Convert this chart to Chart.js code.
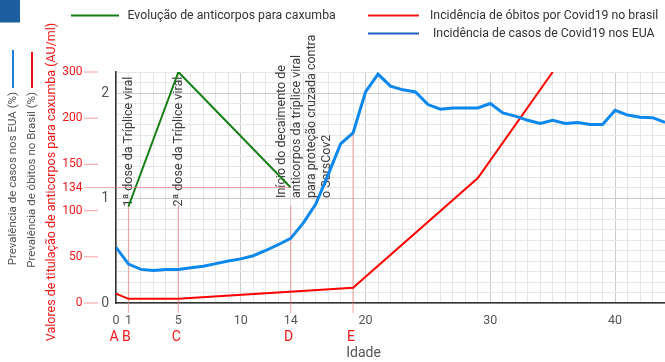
<!DOCTYPE html>
<html><head><meta charset="utf-8">
<script src="https://cdn.jsdelivr.net/npm/chart.js@4"></script>
<style>html,body{margin:0;padding:0;background:#fff}</style>
</head><body>
<canvas id="c" width="665" height="362"></canvas>
<script>
// ---------------- DATA ----------------
const ages = [0,1,2,3,4,5,6,7,8,9,10,11,12,13,14,15,16,17,18,19,20,21,22,23,24,25,26,27,28,29,30,31,32,33,34,35,36,37,38,39,40,41,42,43,44];
const usCases = [0.53,0.37,0.32,0.31,0.32,0.32,0.335,0.35,0.375,0.40,0.42,0.45,0.50,0.555,0.615,0.76,0.94,1.22,1.515,1.62,2.01,2.18,2.065,2.03,2.01,1.89,1.845,1.857,1.857,1.857,1.90,1.81,1.78,1.74,1.71,1.74,1.71,1.72,1.70,1.70,1.835,1.79,1.77,1.765,1.72];
const brDeathAges = [0,1,5,19,29,35];
const brDeaths = [0.09,0.04,0.04,0.145,1.19,2.2];
const mumpsAges = [1,5,14];
const mumpsTiter = [106,300,134];
const titerTicks = [0,50,100,134,150,200,300];
const xTickLabels = [0,1,5,10,14,20,30,40];
const yTickLabels = [0,1,2];
const eventAges = [0,1,5,14,19];
const eventLetters = ['A','B','C','D','E'];
const markerAges = [1,5,14,19];
const annotationAges = [1,5,14];
const annotationTexts = [
  ['1ª dose da Tríplice viral'],
  ['2ª dose da Tríplice viral'],
  ['Início do decaimento de','anticorpos da tríplice viral','para proteção cruzada contra','o SarsCov2']
];
const legendLabels = ['Evolução de anticorpos para caxumba','Incidência de óbitos por Covid19 no brasil','Incidência de casos de Covid19 nos EUA'];

// ---------------- LAYOUT / STYLE ----------------
const titerSlots = [0,1,2,2.5,3,4,5];   // hand-drawn (non-linear) titer axis: slot of each tick
const markerTopValues = [0.93,0.93,0.93,null]; // null -> from the US curve
const annotationStart = [0.92,0.92,1.0];
const annotationShift = [0,0,-8.7];
const FONT = 'Roboto, "Noto Sans", sans-serif';
const BLUE = '#0b88ee', RED = '#ff0000', GREEN = '#157f15';
const PINK = 'rgba(240,120,120,0.6)';
const GRID_MINOR = '#e6e6e6', GRID_MAJOR = '#cbcbcb';

function titerToSlot(v){
  for (let i=1;i<titerTicks.length;i++){
    if (v <= titerTicks[i]) {
      const t = (v - titerTicks[i-1])/(titerTicks[i]-titerTicks[i-1]);
      return titerSlots[i-1] + t*(titerSlots[i]-titerSlots[i-1]);
    }
  }
  return titerSlots[titerSlots.length-1];
}

const overlay = {
  id:'overlay',
  beforeDatasetsDraw(chart){
    const {ctx, chartArea:a, scales:{x,y,y2}} = chart;
    ctx.save();
    ctx.strokeStyle = PINK; ctx.lineWidth = 1.2;
    markerAges.forEach((age,i)=>{
      const px = x.getPixelForValue(age);
      const top = markerTopValues[i] == null ? usCases[ages.indexOf(age)] : markerTopValues[i];
      ctx.beginPath(); ctx.moveTo(px, y.getPixelForValue(top)); ctx.lineTo(px, a.bottom+10); ctx.stroke();
    });
    ctx.fillStyle = '#3c3c3c';
    ctx.font = '12.5px ' + FONT;
    ctx.textBaseline = 'middle'; ctx.textAlign = 'left';
    annotationAges.forEach((age,i)=>{
      const px = x.getPixelForValue(age) + annotationShift[i];
      const py = y.getPixelForValue(annotationStart[i]);
      annotationTexts[i].forEach((line,j)=>{
        ctx.save(); ctx.translate(px + j*15, py); ctx.rotate(-Math.PI/2);
        ctx.fillText(line, 0, 0); ctx.restore();
      });
    });
    ctx.restore();
  },
  afterDraw(chart){
    const {ctx, chartArea:a, scales:{x,y,y2}} = chart;
    ctx.save();
    ctx.fillStyle = '#1b5e9f'; ctx.fillRect(0,0,20,22.5);
    ctx.font = '12px ' + FONT; ctx.textAlign = 'right'; ctx.textBaseline = 'middle';
    titerTicks.forEach(v=>{
      const py = y2.getPixelForValue(titerToSlot(v));
      ctx.fillStyle = '#f01818'; ctx.fillText(String(v), 82.5, py);
      ctx.strokeStyle = PINK; ctx.lineWidth = 1.2;
      let endX = 98;
      if (v === 134) endX = x.getPixelForValue(mumpsAges[mumpsTiter.indexOf(134)]);
      ctx.beginPath(); ctx.moveTo(84, py); ctx.lineTo(endX, py); ctx.stroke();
    });
    ctx.textBaseline = 'middle';
    ctx.save(); ctx.translate(52, 182); ctx.rotate(-Math.PI/2);
    ctx.textAlign = 'center'; ctx.fillStyle = '#f01818'; ctx.font = '12.5px ' + FONT;
    ctx.fillText('Valores de titulação de anticorpos para caxumba (AU/ml)', 0, 0); ctx.restore();
    ctx.font = '11.5px ' + FONT; ctx.fillStyle = '#555';
    ctx.save(); ctx.translate(32, 92); ctx.rotate(-Math.PI/2); ctx.textAlign = 'right';
    ctx.fillText('Prevalência de óbitos no Brasil (%)', 0, 0); ctx.restore();
    ctx.save(); ctx.translate(13, 92); ctx.rotate(-Math.PI/2); ctx.textAlign = 'right';
    ctx.fillText('Prevalência de casos nos EUA (%)', 0, 0); ctx.restore();
    ctx.lineWidth = 2;
    ctx.strokeStyle = '#ee1111'; ctx.beginPath(); ctx.moveTo(32, 52); ctx.lineTo(32, 88); ctx.stroke();
    ctx.strokeStyle = '#1e7fd8'; ctx.beginPath(); ctx.moveTo(13, 50); ctx.lineTo(13, 88); ctx.stroke();
    ctx.font = '14px ' + FONT; ctx.fillStyle = '#f01818'; ctx.textAlign = 'center';
    eventAges.forEach((age,i)=>{ ctx.fillText(eventLetters[i], x.getPixelForValue(age)-2, 337); });
    ctx.font = '14px ' + FONT; ctx.fillStyle = '#555';
    ctx.fillText('Idade', x.getPixelForValue(20)-2, 353);
    ctx.font = '12.3px ' + FONT; ctx.fillStyle = '#333'; ctx.textAlign = 'left';
    const leg = [[GREEN,71,119,15.5,127.5],['#ee1515',368,419,15.5,430],['#1f5fc4',368,419,33.5,433]];
    leg.forEach((l,i)=>{
      ctx.strokeStyle = l[0]; ctx.lineWidth = 2;
      ctx.beginPath(); ctx.moveTo(l[1], l[3]); ctx.lineTo(l[2], l[3]); ctx.stroke();
      ctx.fillText(legendLabels[i], l[4], l[3]);
    });
    ctx.restore();
  }
};

new Chart(document.getElementById('c'), {
  type: 'line',
  data: {
    datasets: [
      { label: legendLabels[2], data: ages.map((a,i)=>({x:a, y:usCases[i]})), borderColor: BLUE, borderWidth: 3, pointRadius: 0, yAxisID: 'y' },
      { label: legendLabels[1], data: brDeathAges.map((a,i)=>({x:a, y:brDeaths[i]})), borderColor: RED, borderWidth: 2, pointRadius: 0, yAxisID: 'y' },
      { label: legendLabels[0], data: mumpsAges.map((a,i)=>({x:a, y:titerToSlot(mumpsTiter[i])})), borderColor: GREEN, borderWidth: 2, pointRadius: 0, yAxisID: 'y2' }
    ]
  },
  options: {
    responsive: false, animation: false, devicePixelRatio: 1,
    layout: { padding: { top: 72, left: 0, right: 0, bottom: 0 } },
    plugins: { legend: { display: false }, tooltip: { enabled: false } },
    elements: { line: { tension: 0 } },
    scales: {
      x: {
        type: 'linear', min: 0, max: 44,
        afterBuildTicks: s => { s.ticks = ages.map(v=>({value:v})); },
        afterFit: s => { s.height = 59; s.paddingRight = 0; s.paddingLeft = 0; },
        ticks: { autoSkip: false, maxRotation: 0, padding: 10, color: '#555', font: { family: FONT, size: 12.5 },
          callback: v => xTickLabels.includes(v) ? String(v) : '' },
        grid: { drawTicks: false, color: c => (c.tick && c.tick.value % 10 === 0) ? GRID_MAJOR : GRID_MINOR },
        border: { display: true, color: '#333', width: 1.5 }
      },
      y: {
        type: 'linear', min: 0, max: 2.2, position: 'left',
        afterBuildTicks: s => { const t=[]; for(let i=0;i<=22;i++) t.push({value:i/10}); s.ticks = t; },
        afterFit: s => { s.width = 116; s.paddingTop = 0; s.paddingBottom = 0; },
        ticks: { autoSkip: false, padding: 7, color: '#555', font: { family: FONT, size: 14 },
          callback: v => { const r = Math.round(v*10); return (r%10===0 && yTickLabels.includes(r/10)) ? String(r/10) : ''; } },
        grid: { drawTicks: false, color: c => (c.tick && Math.round(c.tick.value*10) % 10 === 0) ? GRID_MAJOR : GRID_MINOR },
        border: { display: true, color: '#333', width: 1.5 }
      },
      y2: { type: 'linear', min: 0, max: 5, display: false }
    }
  },
  plugins: [overlay]
});
</script>
</body></html>
